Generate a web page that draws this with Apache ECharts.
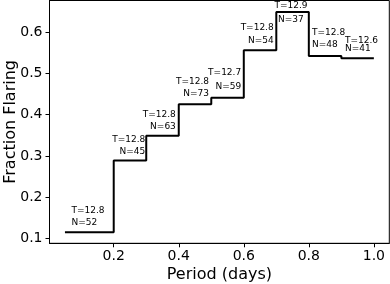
<!DOCTYPE html>
<html>
<head>
<meta charset="utf-8">
<script src="https://cdn.jsdelivr.net/npm/echarts@6/dist/echarts.min.js"></script>
<style>
html,body{margin:0;padding:0;background:#fff;}
#c{width:390px;height:284px;}
</style>
</head>
<body>
<div id="c"></div>
<script>
// ---- data ----
const binEdges = [0.05, 0.2, 0.3, 0.4, 0.5, 0.6, 0.7, 0.8, 0.9, 1.0];
const fractionFlaring = [0.115, 0.289, 0.349, 0.425, 0.441, 0.556, 0.649, 0.542, 0.537];
const tempLabels = ["12.8", "12.8", "12.8", "12.8", "12.7", "12.8", "12.9", "12.8", "12.6"];
const countLabels = [52, 45, 63, 73, 59, 54, 37, 48, 41];
const xTicks = [0.2, 0.4, 0.6, 0.8, 1.0];
const yTicks = [0.1, 0.2, 0.3, 0.4, 0.5, 0.6];

// ---- annotation layout (data coords of the text anchors) ----
const annotLayout = [
  {x: 0.070, yT: 0.168, yN: 0.139, align: 'left'},
  {x: 0.297, yT: 0.340, yN: 0.310, align: 'right'},
  {x: 0.391, yT: 0.400, yN: 0.370, align: 'right'},
  {x: 0.493, yT: 0.481, yN: 0.450, align: 'right'},
  {x: 0.592, yT: 0.501, yN: 0.468, align: 'right'},
  {x: 0.692, yT: 0.610, yN: 0.580, align: 'right'},
  {x: 0.745, yT: 0.663, yN: 0.630, align: 'center'},
  {x: 0.810, yT: 0.598, yN: 0.569, align: 'left'},
  {x: 0.911, yT: 0.580, yN: 0.559, align: 'left'}
];

// step points (post)
const stepData = fractionFlaring.map((v, i) => [binEdges[i], v]);
stepData.push([binEdges[binEdges.length - 1], fractionFlaring[fractionFlaring.length - 1]]);

const FONT = 'DejaVu Sans';
const chart = echarts.init(document.getElementById('c'), null, {renderer: 'canvas'});

chart.setOption({
  animation: false,
  backgroundColor: '#fff',
  grid: {left: 49.5, right: 0.7, top: 0.5, bottom: 40.7, containLabel: false, outerBoundsMode: 'none',
         show: true, borderColor: '#000', borderWidth: 1, backgroundColor: 'transparent'},
  xAxis: {
    type: 'value', min: 0.0025, max: 1.0475,
    name: 'Period (days)', nameLocation: 'middle', nameGap: 24, nameMoveOverlap: false,
    nameTextStyle: {fontFamily: FONT, fontSize: 16, color: '#000'},
    axisLine: {show: true, onZero: false, lineStyle: {color: '#000', width: 1}},
    axisTick: {show: true, length: 4, customValues: xTicks, lineStyle: {color: '#000', width: 1}},
    axisLabel: {customValues: xTicks, formatter: v => v.toFixed(1), fontFamily: FONT, fontSize: 14, color: '#000', margin: 6},
    splitLine: {show: false}
  },
  yAxis: {
    type: 'value', min: 0.0883, max: 0.6767,
    name: 'Fraction Flaring', nameLocation: 'middle', nameGap: 31, nameMoveOverlap: false,
    nameTextStyle: {fontFamily: FONT, fontSize: 16, color: '#000'},
    axisLine: {show: true, onZero: false, lineStyle: {color: '#000', width: 1}},
    axisTick: {show: true, length: 4, customValues: yTicks, lineStyle: {color: '#000', width: 1}},
    axisLabel: {customValues: yTicks, formatter: v => v.toFixed(1), fontFamily: FONT, fontSize: 14, color: '#000', margin: 7},
    splitLine: {show: false}
  },
  series: [
    {
      type: 'line', step: 'end', data: stepData, showSymbol: false, symbol: 'none',
      lineStyle: {color: '#000', width: 2}
    },
    {
      type: 'custom',
      data: annotLayout.map((a, i) => [a.x, a.yT, i]),
      renderItem: function (params, api) {
        const i = api.value(2);
        const a = annotLayout[i];
        const pT = api.coord([a.x, a.yT]);
        const pN = api.coord([a.x, a.yN]);
        return {
          type: 'group',
          children: [
            {type: 'text', x: pT[0], y: pT[1], style: {text: 'T=' + tempLabels[i], fill: '#000', fontFamily: FONT, fontSize: 9, align: a.align, verticalAlign: 'middle'}},
            {type: 'text', x: pN[0], y: pN[1], style: {text: 'N=' + countLabels[i], fill: '#000', fontFamily: FONT, fontSize: 9, align: a.align, verticalAlign: 'middle'}}
          ]
        };
      },
      clip: false
    }
  ]
});
</script>
</body>
</html>
